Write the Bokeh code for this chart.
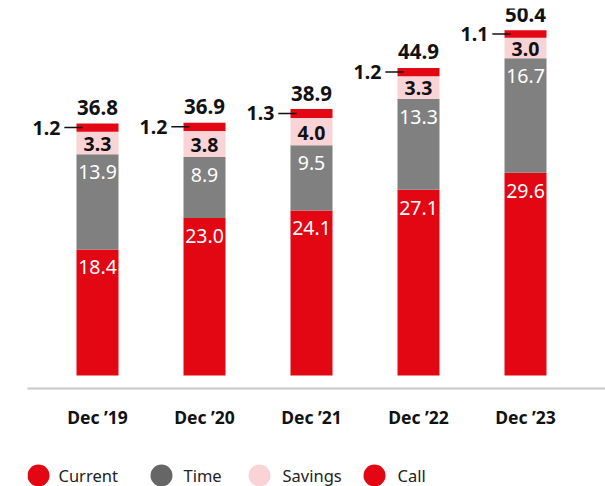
from bokeh.plotting import figure
from bokeh.models import Range1d, FixedTicker, ColumnDataSource
from bokeh.layouts import column
from bokeh.embed import file_html
from bokeh.resources import INLINE
from bokeh.core.properties import value

# ---- data ----
periods = ["Dec \u201919", "Dec \u201920", "Dec \u201921", "Dec \u201922", "Dec \u201923"]
current = [18.4, 23.0, 24.1, 27.1, 29.6]
time_dep = [13.9, 8.9, 9.5, 13.3, 16.7]
savings = [3.3, 3.8, 4.0, 3.3, 3.0]
call = [1.2, 1.2, 1.3, 1.2, 1.1]
totals = [36.8, 36.9, 38.9, 44.9, 50.4]
series_names = ["Current", "Time", "Savings", "Call"]

RED = "#E30613"
GRAY = "#808080"
LEGEND_GRAY = "#666666"
PINK = "#F9D3D6"
FONT = value("Noto Sans")

xs = list(range(len(periods)))
c_top = [c for c in current]
t_top = [c + t for c, t in zip(current, time_dep)]
s_top = [tt + s for tt, s in zip(t_top, savings)]
k_top = [st + k for st, k in zip(s_top, call)]

src = ColumnDataSource(dict(
    x=xs,
    c_top=c_top, t_top=t_top, s_top=s_top, k_top=k_top,
    zero=[0] * len(xs),
    s_mid=[(a + b) / 2 for a, b in zip(t_top, s_top)],
    k_mid=[(a + b) / 2 for a, b in zip(s_top, k_top)],
    c_lbl=[f"{v:.1f}" for v in current],
    t_lbl=[f"{v:.1f}" for v in time_dep],
    s_lbl=[f"{v:.1f}" for v in savings],
    k_lbl=[f"{v:.1f}" for v in call],
    tot_lbl=[f"{v:.1f}" for v in totals],
    tot=totals,
    lead0=[x - 0.31 for x in xs],
    lead1=[x - 0.14 for x in xs],
))

PX_PER_UNIT = 6.85
y0 = -13 / PX_PER_UNIT
p = figure(width=605, height=448, output_backend="svg", toolbar_location=None,
           title=None, y_axis_location=None,
           x_range=Range1d(-70 / 107, -70 / 107 + 578 / 107),
           y_range=Range1d(y0, y0 + 380 / PX_PER_UNIT),
           min_border_left=27, min_border_right=0, min_border_top=8, min_border_bottom=60)
p.outline_line_color = None
p.xgrid.visible = False
p.ygrid.visible = False

W = 42 / 107
p.vbar(x="x", bottom="zero", top="c_top", width=W, color=RED, line_color=None, source=src)
p.vbar(x="x", bottom="c_top", top="t_top", width=W, color=GRAY, line_color=None, source=src)
p.vbar(x="x", bottom="t_top", top="s_top", width=W, color=PINK, line_color=None, source=src)
p.vbar(x="x", bottom="s_top", top="k_top", width=W, color=RED, line_color=None, source=src)

common = dict(source=src, text_font=FONT, text_align="center", text_baseline="middle")
p.text(x="x", y="c_top", text="c_lbl", y_offset=18, text_color="white",
       text_font_size="19.5px", **common)
p.text(x="x", y="t_top", text="t_lbl", y_offset=18, text_color="white",
       text_font_size="19.5px", **common)
p.text(x="x", y="s_mid", text="s_lbl", y_offset=1, text_color="#111111",
       text_font_size="19.5px", text_font_style="bold", **common)
p.text(x="x", y="tot", text="tot_lbl", y_offset=-16, text_color="#111111",
       text_font_size="20.5px", text_font_style="bold", **common)

p.segment(x0="lead0", y0="k_mid", x1="lead1", y1="k_mid", line_color="#111111",
          line_width=1.5, source=src)
p.text(x="lead0", y="k_mid", text="k_lbl", x_offset=-4, text_color="#111111",
       text_font_size="19.5px", text_font_style="bold", text_font=FONT,
       text_align="right", text_baseline="middle", source=src)

ax = p.xaxis[0]
ax.ticker = FixedTicker(ticks=xs)
ax.major_label_overrides = {i: lbl for i, lbl in enumerate(periods)}
ax.axis_line_color = "#c8c8c8"
ax.axis_line_width = 2
ax.major_tick_line_color = None
ax.minor_tick_line_color = None
ax.major_tick_out = 0
ax.major_tick_in = 0
ax.major_label_standoff = 16
ax.major_label_text_font = "Noto Sans"
ax.major_label_text_font_style = "bold"
ax.major_label_text_font_size = "17.5px"
ax.major_label_text_color = "#111111"

# ---- legend strip (its frame is aligned with the chart frame: page x 27..605) ----
leg = figure(width=605, height=38, output_backend="svg", toolbar_location=None,
             title=None, x_axis_location=None, y_axis_location=None,
             x_range=Range1d(27, 605), y_range=Range1d(38, 0),
             min_border_left=27, min_border_right=0, min_border_top=0, min_border_bottom=0)
leg.outline_line_color = None
leg.xgrid.visible = False
leg.ygrid.visible = False
leg_src = ColumnDataSource(dict(
    x=[38, 161, 259, 374],
    tx=[58, 183, 282, 397],
    y=[27] * 4,
    color=[RED, LEGEND_GRAY, PINK, RED],
    name=series_names,
))
leg.scatter(x="x", y="y", size=22, color="color", line_color=None, source=leg_src)
leg.text(x="tx", y="y", text="name", text_font=FONT, text_font_size="16.5px",
         text_color="#222222", text_baseline="middle", text_align="left", source=leg_src)

layout = column(p, leg, spacing=0)
open("out.html", "w").write(file_html(layout, INLINE))
